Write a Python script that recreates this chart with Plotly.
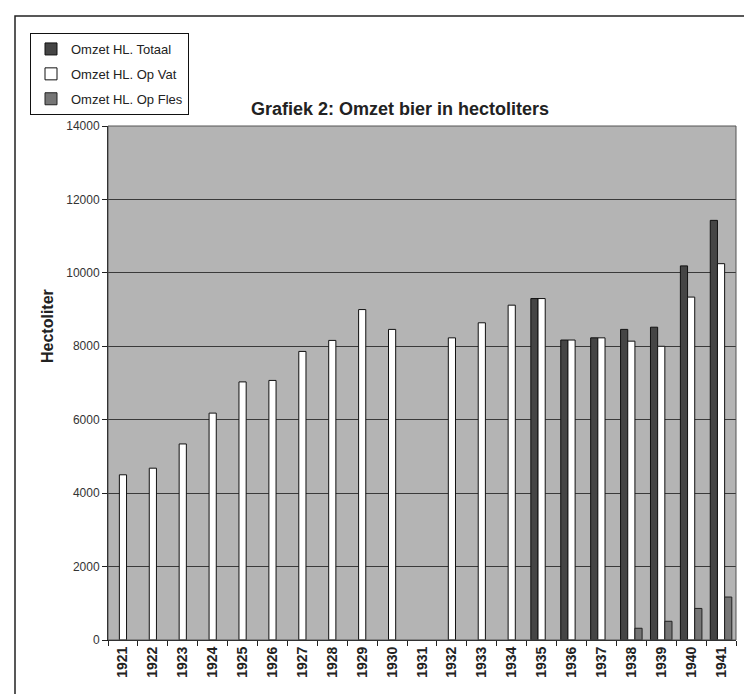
import plotly.graph_objects as go

years = [str(y) for y in range(1921, 1942)]
totaal = [None] * 14 + [9300, 8170, 8230, 8460, 8520, 10190, 11430]
op_vat = [4500, 4680, 5340, 6180, 7030, 7070, 7860, 8160, 9000, 8460, None,
          8230, 8640, 9120, 9300, 8170, 8230, 8140, 8000, 9340, 10250]
op_fles = [None] * 17 + [320, 510, 860, 1170]

series_names = ["Omzet HL. Totaal", "Omzet HL. Op Vat", "Omzet HL. Op Fles"]
y_ticks = [0, 2000, 4000, 6000, 8000, 10000, 12000, 14000]

FONT = "Liberation Sans, Arial, sans-serif"
W, H = 752, 694
L, R, T, B = 100, 24, 118, 62
PW, PH = W - L - R, H - T - B


def px_x(p):
    return (p - L) / PW


def px_y(p):
    return (H - B - p) / PH


fig = go.Figure()
fig.add_trace(go.Bar(x=years, y=totaal, name=series_names[0], legendgroup="a",
                     marker=dict(color="#454545", line=dict(color="#111111", width=1))))
fig.add_trace(go.Bar(x=years, y=op_vat, name=series_names[1], legendgroup="b",
                     marker=dict(color="#ffffff", line=dict(color="#111111", width=1))))
fig.add_trace(go.Bar(x=years, y=op_fles, name=series_names[2], legendgroup="c",
                     marker=dict(color="#767676", line=dict(color="#222222", width=1))))

fig.update_layout(
    width=W, height=H,
    margin=dict(l=L, r=R, t=T, b=B, autoexpand=False),
    paper_bgcolor="white",
    plot_bgcolor="#b4b4b4",
    barmode="group",
    bargap=0.28,
    bargroupgap=0,
    font=dict(family=FONT, color="#222222"),
    title=dict(text="<b>Grafiek 2: Omzet bier in hectoliters</b>",
               x=392 / W, xref="container", xanchor="center",
               y=1 - 101 / H, yref="container", yanchor="middle",
               font=dict(size=18, color="#222222", family=FONT)),
    legend=dict(x=px_x(22), y=px_y(25), xanchor="left", yanchor="top",
                bgcolor="white", bordercolor="#111111", borderwidth=1,
                font=dict(size=13, family=FONT, color="#222222"),
                tracegroupgap=5, itemwidth=30),
    showlegend=True,
    xaxis=dict(type="category", tickson="boundaries", ticks="outside", ticklen=5,
               tickcolor="#222222", showline=True, linecolor="#111111", linewidth=1,
               tickangle=-90, showgrid=False,
               tickfont=dict(size=14, family=FONT, color="#222222", weight="bold")),
    yaxis=dict(range=[0, 14000], tickvals=y_ticks, tickformat="d", ticks="outside",
               ticklen=5, tickcolor="#222222", showline=True, linecolor="#111111",
               linewidth=1, showgrid=True, gridcolor="#3a3a3a", gridwidth=1,
               zeroline=False,
               tickfont=dict(size=12, family=FONT, color="#333333")),
    annotations=[dict(text="<b>Hectoliter</b>", textangle=-90,
                      x=px_x(39), y=px_y(318), xref="paper", yref="paper",
                      xanchor="center", yanchor="middle", showarrow=False,
                      font=dict(size=16, family=FONT, color="#222222"))],
    shapes=[
        dict(type="rect", xref="paper", yref="paper", x0=0, x1=1, y0=0, y1=1,
             line=dict(color="#555555", width=1)),
        dict(type="rect", xref="paper", yref="paper",
             x0=px_x(7), x1=px_x(745), y0=px_y(690), y1=px_y(8),
             line=dict(color="#222222", width=1.5)),
    ],
)

fig.write_html("out.html")
